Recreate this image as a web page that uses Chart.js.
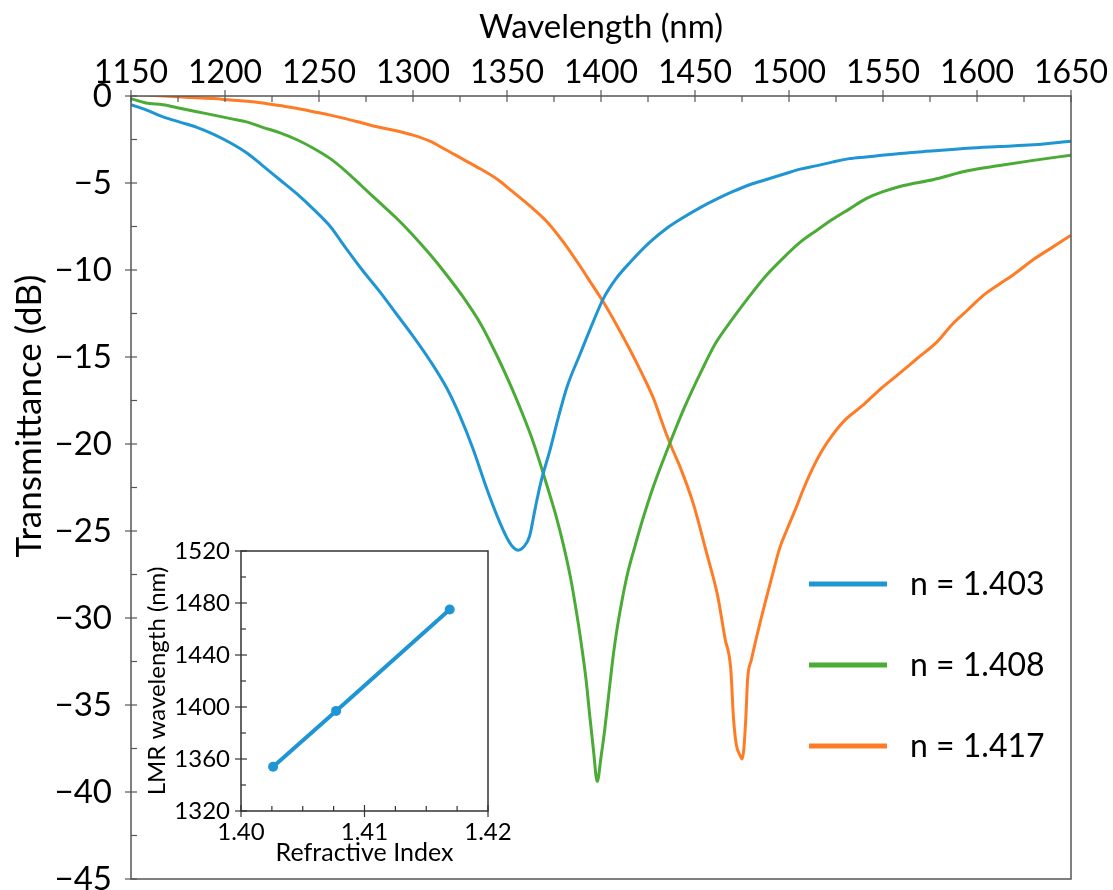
<!DOCTYPE html>
<html>
<head>
<meta charset="utf-8">
<script src="https://cdn.jsdelivr.net/npm/chart.js@4.4.1/dist/chart.umd.min.js"></script>
<style>
  body { margin: 0; background: #fff; }
  #wrap { position: relative; width: 1113px; height: 890px; }
  #main { position: absolute; left: 0; top: 0; }
  #inset { position: absolute; left: 140px; top: 520px; }
</style>
</head>
<body>
<div id="wrap">
  <canvas id="main" width="1113" height="890"></canvas>
  <canvas id="inset" width="380" height="370"></canvas>
</div>
<script>
// transmission spectra for three surrounding refractive indices
const seriesLabels = ['n = 1.403', 'n = 1.408', 'n = 1.417'];
const seriesColors = ['#1f95d3', '#4aab37', '#ff7c26'];

const wl1403 = [1150, 1158, 1167, 1176, 1185, 1194, 1203, 1212, 1220, 1229, 1238, 1247, 1256, 1264, 1273,
  1282, 1291, 1300, 1309, 1318, 1325, 1332, 1339, 1345, 1350, 1353, 1356, 1359, 1362, 1365,
  1368, 1373, 1377, 1382, 1389, 1395, 1401, 1408, 1416, 1426, 1435, 1442, 1453, 1462, 1470,
  1479, 1488, 1497, 1506, 1515, 1523, 1532, 1541, 1559, 1577, 1595, 1612, 1630, 1650];
const db1403 = [-0.5, -0.8, -1.2, -1.5, -1.8, -2.2, -2.7, -3.3, -4.0, -4.8, -5.6, -6.5, -7.5, -8.7, -10.0,
  -11.2, -12.5, -13.8, -15.2, -16.8, -18.4, -20.3, -22.5, -24.2, -25.4, -25.9, -26.1, -25.9, -25.3, -23.7,
  -22.2, -20.3, -18.6, -16.7, -14.8, -13.2, -11.7, -10.5, -9.5, -8.4, -7.6, -7.1, -6.4, -5.9, -5.5,
  -5.1, -4.8, -4.5, -4.2, -4.0, -3.8, -3.6, -3.5, -3.3, -3.15, -3.0, -2.9, -2.8, -2.6];

const wl1408 = [1150, 1158, 1167, 1176, 1185, 1194, 1203, 1212, 1220, 1229, 1238, 1247, 1256, 1264, 1273,
  1282, 1291, 1300, 1309, 1318, 1327, 1336, 1345, 1353, 1358, 1363, 1367, 1371, 1376, 1380,
  1384, 1387, 1389, 1392, 1394, 1396, 1398, 1400, 1402, 1404, 1406, 1408, 1411, 1414, 1418,
  1422, 1428, 1435, 1444, 1453, 1461, 1470, 1479, 1488, 1497, 1506, 1515, 1523, 1532, 1541,
  1550, 1559, 1577, 1595, 1612, 1630, 1650];
const db1408 = [-0.15, -0.4, -0.5, -0.7, -0.9, -1.1, -1.3, -1.5, -1.8, -2.1, -2.5, -3.0, -3.6, -4.3, -5.2,
  -6.1, -7.0, -8.0, -9.1, -10.3, -11.6, -13.1, -15.0, -16.9, -18.2, -19.6, -20.9, -22.3, -24.1, -25.8,
  -27.8, -29.7, -31.1, -33.5, -35.6, -37.6, -39.4, -38.0, -36.4, -34.5, -32.6, -31.0, -29.1, -27.5, -25.9,
  -24.4, -22.4, -20.4, -18.0, -15.9, -14.2, -12.8, -11.5, -10.3, -9.3, -8.4, -7.7, -7.1, -6.5, -5.9,
  -5.5, -5.2, -4.8, -4.3, -4.0, -3.7, -3.4];

const wl1417 = [1150, 1160, 1175, 1185, 1194, 1203, 1212, 1220, 1229, 1238, 1247, 1256, 1264, 1273, 1282,
  1291, 1300, 1309, 1316, 1326, 1336, 1345, 1353, 1362, 1371, 1380, 1389, 1395, 1401, 1408,
  1415, 1422, 1428, 1431, 1435, 1438, 1442, 1449, 1456, 1462, 1466, 1469, 1470.5, 1472, 1474,
  1475, 1476, 1477, 1478, 1480, 1485, 1491, 1495, 1499, 1504, 1508, 1513, 1518, 1523, 1530,
  1539, 1548, 1557, 1568, 1579, 1587, 1595, 1604, 1612, 1619, 1630, 1640, 1650];
const db1417 = [0.1, 0.05, -0.05, -0.1, -0.15, -0.23, -0.3, -0.4, -0.55, -0.7, -0.9, -1.1, -1.3, -1.55, -1.8,
  -2.0, -2.25, -2.6, -3.0, -3.6, -4.2, -4.8, -5.5, -6.3, -7.2, -8.4, -9.8, -10.8, -11.8, -13.1,
  -14.5, -16.0, -17.4, -18.3, -19.5, -20.3, -21.3, -23.4, -26.2, -28.7, -31.2, -32.9, -35.8, -37.3, -37.9,
  -38.1, -37.5, -35.8, -33.5, -32.4, -30.1, -27.6, -26.0, -24.9, -23.6, -22.5, -21.3, -20.3, -19.5, -18.6,
  -17.8, -16.9, -16.1, -15.1, -14.1, -13.1, -12.3, -11.4, -10.8, -10.3, -9.4, -8.7, -8.0];

const wlTicks = [1150, 1200, 1250, 1300, 1350, 1400, 1450, 1500, 1550, 1600, 1650];
const dbTicks = [0, -5, -10, -15, -20, -25, -30, -35, -40, -45];

// resonance dip position vs refractive index (inset)
const refIndex = [1.4026, 1.4077, 1.4169];
const lmrWavelength = [1354, 1397, 1475];
const refIndexTicks = [1.40, 1.41, 1.42];
const lmrTicks = [1320, 1360, 1400, 1440, 1480, 1520];

const FONT = 'Lato, "Open Sans", sans-serif';
Chart.defaults.font.family = FONT;
Chart.defaults.color = '#000';

const pairs = (xs, ys) => xs.map((x, i) => ({ x: x, y: ys[i] }));
const minus = v => (v < 0 ? '\u2212' + Math.abs(v) : String(v));

// box around the plot area plus major (crossing) and minor (inward) ticks
const frameTicks = {
  id: 'frameTicks',
  afterDraw(chart, args, o) {
    const { ctx, chartArea: a, scales } = chart;
    ctx.save();
    ctx.strokeStyle = o.color;
    ctx.lineWidth = o.width;
    ctx.strokeRect(a.left, a.top, a.right - a.left, a.bottom - a.top);
    ctx.lineWidth = 1.2;
    const xs = scales.x, ys = scales.y;
    const xAxisY = o.xSide === 'top' ? a.top : a.bottom;
    const inDir = o.xSide === 'top' ? 1 : -1;
    let n = Math.round((xs.max - xs.min) / o.xMinor);
    for (let i = 0; i <= n; i++) {
      const px = xs.getPixelForValue(xs.min + i * o.xMinor);
      ctx.beginPath();
      if (i % o.xRatio === 0) {
        ctx.moveTo(px, xAxisY - inDir * o.major);
        ctx.lineTo(px, xAxisY + inDir * o.major);
      } else {
        ctx.moveTo(px, xAxisY);
        ctx.lineTo(px, xAxisY + inDir * o.minor);
      }
      ctx.stroke();
    }
    n = Math.round((ys.max - ys.min) / o.yMinor);
    for (let i = 0; i <= n; i++) {
      const py = ys.getPixelForValue(ys.min + i * o.yMinor);
      ctx.beginPath();
      if (i % o.yRatio === 0) {
        ctx.moveTo(a.left - o.major, py);
        ctx.lineTo(a.left + o.major, py);
      } else {
        ctx.moveTo(a.left, py);
        ctx.lineTo(a.left + o.minor, py);
      }
      ctx.stroke();
    }
    ctx.restore();
  }
};

// rotated y title and the line legend on the right
const sideText = {
  id: 'sideText',
  afterDraw(chart) {
    const { ctx, chartArea: a } = chart;
    ctx.save();
    ctx.fillStyle = '#000';
    ctx.font = '35px ' + FONT;
    ctx.textAlign = 'center';
    ctx.textBaseline = 'middle';
    ctx.translate(a.left - 101, a.top + 320);
    ctx.rotate(-Math.PI / 2);
    ctx.fillText('Transmittance (dB)', 0, 0);
    ctx.restore();

    ctx.save();
    ctx.font = '32px ' + FONT;
    ctx.textAlign = 'left';
    ctx.textBaseline = 'middle';
    chart.data.datasets.forEach((ds, i) => {
      const y = a.top + 488 + i * 81;
      ctx.strokeStyle = ds.borderColor;
      ctx.lineWidth = 5;
      ctx.beginPath();
      ctx.moveTo(a.right - 262, y);
      ctx.lineTo(a.right - 184, y);
      ctx.stroke();
      ctx.fillStyle = '#000';
      ctx.fillText(ds.label, a.right - 161, y + 1);
    });
    ctx.restore();
  }
};

const spectra = [pairs(wl1403, db1403), pairs(wl1408, db1408), pairs(wl1417, db1417)];

new Chart(document.getElementById('main'), {
  type: 'line',
  data: {
    datasets: spectra.map((d, i) => ({
      label: seriesLabels[i],
      data: d,
      borderColor: seriesColors[i],
      borderWidth: 3,
      pointRadius: 0,
      cubicInterpolationMode: 'monotone'
    }))
  },
  options: {
    responsive: false,
    animation: false,
    layout: { padding: { left: 0, top: 0, right: 42, bottom: 11 } },
    plugins: {
      legend: { display: false },
      tooltip: { enabled: false },
      frameTicks: { color: '#555', width: 1.5, xSide: 'top', xMinor: 25, xRatio: 2, yMinor: 2.5, yRatio: 2, major: 6, minor: 6 }
    },
    scales: {
      x: {
        type: 'linear', position: 'top', min: 1150, max: 1650,
        afterBuildTicks: s => { s.ticks = wlTicks.map(v => ({ value: v })); },
        afterFit: s => { s.height = 96; s.paddingLeft = 0; s.paddingRight = 0; },
        grid: { display: false, drawTicks: false },
        border: { display: false },
        ticks: { font: { size: 32 }, padding: 4, maxRotation: 0, autoSkip: false, callback: v => String(v) },
        title: { display: true, text: 'Wavelength (nm)', font: { size: 33 }, padding: { top: 8, bottom: 0 } }
      },
      y: {
        type: 'linear', min: -45, max: 0,
        afterBuildTicks: s => { s.ticks = dbTicks.map(v => ({ value: v })); },
        afterFit: s => { s.width = 131; s.paddingTop = 0; s.paddingBottom = 0; },
        grid: { display: false, drawTicks: false },
        border: { display: false },
        ticks: { font: { size: 33 }, padding: 19, autoSkip: false, callback: minus }
      }
    }
  },
  plugins: [frameTicks, sideText]
});

new Chart(document.getElementById('inset'), {
  type: 'line',
  data: {
    datasets: [{
      label: 'LMR wavelength',
      data: pairs(refIndex, lmrWavelength),
      borderColor: seriesColors[0],
      backgroundColor: seriesColors[0],
      borderWidth: 4,
      pointRadius: 5,
      pointBorderWidth: 0
    }]
  },
  options: {
    responsive: false,
    animation: false,
    layout: { padding: { left: 0, top: 31, right: 32, bottom: 0 } },
    plugins: {
      legend: { display: false },
      tooltip: { enabled: false },
      frameTicks: { color: '#333', width: 1.5, xSide: 'bottom', xMinor: 0.0025, xRatio: 4, yMinor: 20, yRatio: 2, major: 6, minor: 5 }
    },
    scales: {
      x: {
        type: 'linear', min: 1.40, max: 1.42,
        afterBuildTicks: s => { s.ticks = refIndexTicks.map(v => ({ value: v })); },
        afterFit: s => { s.height = 79; s.paddingLeft = 0; s.paddingRight = 0; },
        grid: { display: false, drawTicks: false },
        border: { display: false },
        ticks: { font: { size: 24 }, padding: 7, maxRotation: 0, autoSkip: false, callback: v => v.toFixed(2) },
        title: { display: true, text: 'Refractive Index', font: { size: 25 }, padding: { top: 0, bottom: 22 } }
      },
      y: {
        type: 'linear', min: 1320, max: 1520,
        afterBuildTicks: s => { s.ticks = lmrTicks.map(v => ({ value: v })); },
        afterFit: s => { s.width = 101; s.paddingTop = 0; s.paddingBottom = 0; },
        grid: { display: false, drawTicks: false },
        border: { display: false },
        ticks: { font: { size: 24 }, padding: 11, autoSkip: false, callback: v => String(v) },
        title: { display: true, text: 'LMR wavelength (nm)', font: { size: 24 }, padding: { top: 3, bottom: 0 } }
      }
    }
  },
  plugins: [frameTicks]
});
</script>
</body>
</html>
